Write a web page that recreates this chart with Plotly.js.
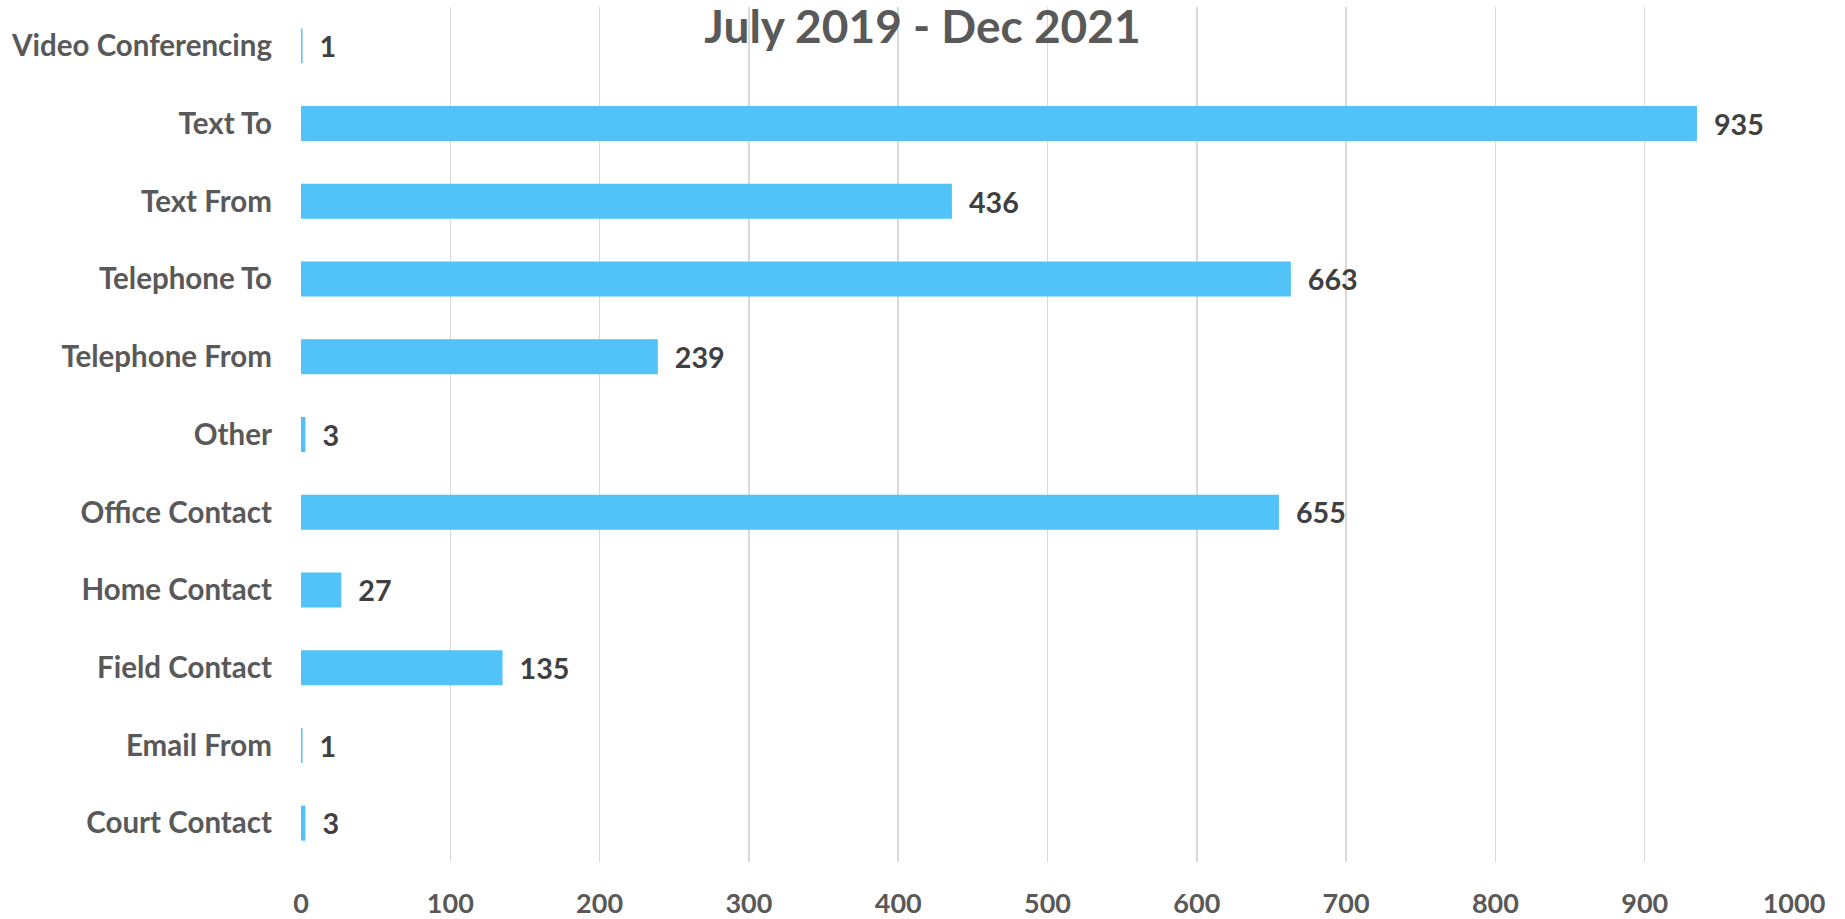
<!DOCTYPE html>
<html>
<head>
<meta charset="utf-8">
<script src="https://cdn.plot.ly/plotly-3.0.1.min.js"></script>
<style>html,body{margin:0;padding:0;background:#fff;}#chart{width:1845px;height:919px;}</style>
</head>
<body>
<div id="chart"></div>
<script>
const categories = ["Video Conferencing","Text To","Text From","Telephone To","Telephone From","Other","Office Contact","Home Contact","Field Contact","Email From","Court Contact"];
const values = [1,935,436,663,239,3,655,27,135,1,3];
const xTicks = [0,100,200,300,400,500,600,700,800,900,1000];
const chartTitle = "July 2019 - Dec 2021";

const FONT = "Lato, 'Open Sans', sans-serif";
const trace = {
  type: "bar",
  orientation: "h",
  y: categories,
  x: values,
  marker: {color: "#52C3F8"},
  text: values.map(v => "\u00A0\u00A0" + v),
  textposition: "outside",
  cliponaxis: false,
  textfont: {family: FONT, size: 32, color: "#404040", weight: "bold"},
  hoverinfo: "none"
};
const layout = {
  width: 1845, height: 919,
  margin: {l: 301, r: 51, t: 7, b: 57},
  paper_bgcolor: "#ffffff", plot_bgcolor: "#ffffff",
  showlegend: false,
  bargap: 0.55,
  title: {
    text: chartTitle,
    font: {family: FONT, size: 46, color: "#595959", weight: "bold"},
    x: 0.5, xref: "container", xanchor: "center",
    y: 1 - 27/919, yref: "container", yanchor: "middle"
  },
  xaxis: {
    range: [0, 1000],
    tickvals: xTicks,
    ticktext: xTicks.map(String),
    showgrid: true, gridcolor: "#D9D9D9", gridwidth: 1.5,
    zeroline: false, showline: false, ticks: "",
    ticklabelstandoff: 23,
    tickfont: {family: FONT, size: 27, color: "#595959", weight: "bold"},
    fixedrange: true
  },
  yaxis: {
    autorange: "reversed",
    showgrid: false, zeroline: false, showline: false, ticks: "",
    ticklabelstandoff: 28,
    tickfont: {family: FONT, size: 29.5, color: "#595959", weight: "bold"},
    fixedrange: true
  }
};
Plotly.newPlot("chart", [trace], layout, {displayModeBar: false, staticPlot: true});
</script>
</body>
</html>
